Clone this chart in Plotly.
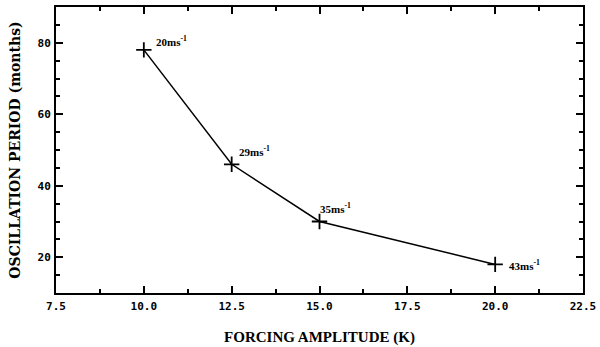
import plotly.graph_objects as go

forcing = [10.0, 12.5, 15.0, 20.0]
period = [78, 46, 30, 18]
labels = ["20ms<sup>-1</sup>", "29ms<sup>-1</sup>", "35ms<sup>-1</sup>", "43ms<sup>-1</sup>"]
label_dx = [10, 5, -2, 12]
label_dy = [9, 13, 14, -1]
x_ticks = [7.5, 10.0, 12.5, 15.0, 17.5, 20.0, 22.5]
x_ticktext = ["7.5", "10.0", "12.5", "15.0", "17.5", "20.0", "22.5"]
y_ticks = [20, 40, 60, 80]
y_ticktext = ["20", "40", "60", "80"]

fig = go.Figure()
fig.add_trace(go.Scatter(
    x=forcing, y=period, mode="lines+markers",
    line=dict(color="black", width=1.5),
    marker=dict(symbol="cross-thin", size=11, line=dict(color="black", width=1.8), color="black"),
    showlegend=False,
))

for xv, yv, t, dx, dy in zip(forcing, period, labels, label_dx, label_dy):
    fig.add_annotation(x=xv, y=yv, text=t, showarrow=False, xref="x", yref="y",
                       xanchor="left", yanchor="middle", xshift=dx, yshift=dy,
                       font=dict(family="Liberation Serif", size=11, color="black", weight="bold"))

axis_common = dict(
    showline=True, linecolor="black", linewidth=2, mirror="ticks",
    ticks="inside", ticklen=7, tickwidth=2, tickcolor="black",
    showgrid=False, zeroline=False, automargin=False,
    tickfont=dict(family="DejaVu Sans Mono", size=11, color="black", weight="bold"),
)

fig.update_xaxes(range=[7.5, 22.5], tickvals=x_ticks, ticktext=["<b>" + t + "</b>" for t in x_ticktext],
                 minor=dict(dtick=1.25, tick0=7.5, ticks="inside", ticklen=4, tickwidth=1.5, tickcolor="black"),
                 title=dict(text="FORCING AMPLITUDE (K)", standoff=19,
                            font=dict(family="Liberation Serif", size=15, color="black", weight="bold")),
                 ticklabelstandoff=2,
                 **axis_common)
fig.update_yaxes(range=[10, 90], tickvals=y_ticks, ticktext=["<b>" + t + "</b>" for t in y_ticktext],
                 minor=dict(dtick=5, tick0=10, ticks="inside", ticklen=4, tickwidth=1.5, tickcolor="black"),
                 title=dict(text="OSCILLATION PERIOD (months)", standoff=14,
                            font=dict(family="DejaVu Serif", size=14, color="black", weight="bold")),
                 ticklabelstandoff=1,
                 **axis_common)

fig.update_layout(
    width=600, height=347,
    margin=dict(l=56, r=17, t=7, b=54),
    plot_bgcolor="white", paper_bgcolor="white",
)

fig.write_html("out.html", config={"displayModeBar": False},
               post_script="document.body.style.margin='0px';")
